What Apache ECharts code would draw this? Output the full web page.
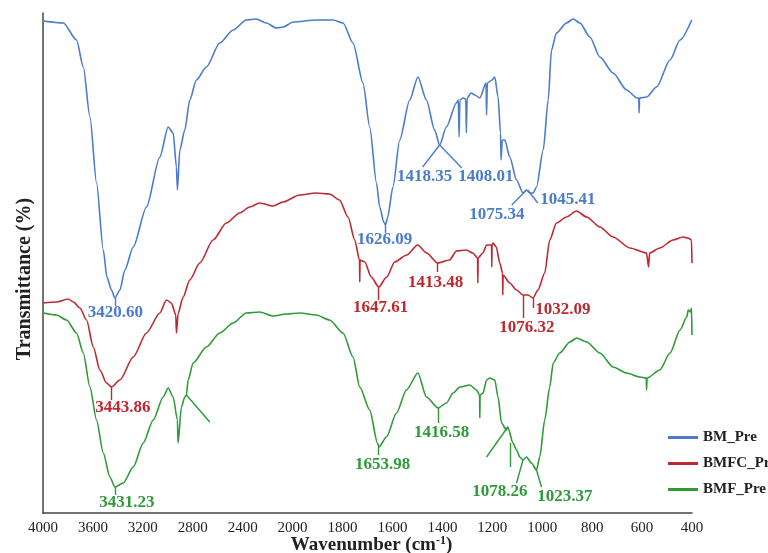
<!DOCTYPE html>
<html>
<head>
<meta charset="utf-8">
<script src="https://cdn.jsdelivr.net/npm/echarts@6/dist/echarts.min.js"></script>
<style>html,body{margin:0;padding:0;background:#fff}#c{width:768px;height:553px}</style>
</head>
<body>
<div id="c"></div>
<script>
// x tick labels (cm-1); axis is split: 4000-2000 compressed, 2000-400 expanded
var tickLabels = [4000, 3600, 3200, 2800, 2400, 2000, 1800, 1600, 1400, 1200, 1000, 800, 600, 400];
var seriesNames = ['BM_Pre', 'BMFC_Pre', 'BMF_Pre'];
var colors = ['#4a7ccb', '#c0282f', '#2f9a38'];

// [wavenumber, transmittance (arbitrary offset units)]
var bmPre = [
[3997,492],[3837,490],[3731,473],[3677,446],[3624,396],[3571,330],[3517,263],[3488,236],[3451,223],[3424,215],
[3384,223],[3344,243],[3277,266],[3171,306],[3064,356],[2997,386],[2957,380],[2931,346],[2923,323],[2904,363],
[2864,383],[2824,413],[2771,433],[2691,446],[2584,470],[2477,483],[2371,493],[2291,494],[2211,490],[2131,485],
[2077,486],[1997,491],[1905,493],[1838,493],[1798,490],[1758,470],[1718,430],[1691,386],[1664,330],[1651,306],
[1635,291],[1628,288],[1620,295],[1598,326],[1571,373],[1531,413],[1498,436],[1464,413],[1431,383],[1411,368],
[1384,386],[1344,410],[1336,413],[1333,376],[1330,413],[1317,415],[1306,414],[1304,380],[1301,415],[1285,420],
[1270,418],[1250,415],[1225,430],[1223,398],[1220,430],[1201,433],[1190,436],[1177,416],[1167,380],[1165,353],
[1160,373],[1150,373],[1130,356],[1103,333],[1077,320],[1063,323],[1050,320],[1036,320],[1023,326],[996,363],
[976,413],[963,463],[943,480],[903,490],[876,494],[849,490],[809,476],[769,456],[716,440],[662,423],
[620,415],[613,415],[612,400],[610,415],[582,416],[542,426],[488,453],[448,473],[401,493]
];
var bmfcPre = [
[3997,210],[3891,211],[3797,214],[3757,211],[3704,205],[3651,193],[3597,166],[3544,143],[3491,130],[3451,126],
[3384,133],[3277,156],[3171,180],[3064,200],[3011,213],[2971,210],[2936,198],[2931,180],[2917,200],[2877,216],
[2824,233],[2744,250],[2637,273],[2531,290],[2424,300],[2344,306],[2264,310],[2157,307],[2077,311],[1972,318],
[1905,320],[1852,319],[1812,313],[1778,296],[1751,273],[1732,253],[1731,231],[1730,253],[1711,251],[1685,236],
[1655,226],[1623,236],[1591,251],[1543,258],[1499,268],[1463,260],[1419,250],[1371,253],[1344,262],[1304,263],
[1278,260],[1259,255],[1258,230],[1257,255],[1238,260],[1223,268],[1210,268],[1203,268],[1202,246],[1201,268],
[1197,270],[1184,266],[1170,250],[1159,240],[1158,218],[1157,238],[1130,230],[1103,223],[1077,218],[1057,218],
[1037,215],[1017,223],[990,240],[970,273],[943,290],[903,296],[863,302],[822,296],[769,286],[716,276],
[649,265],[582,260],[574,246],[570,260],[529,265],[476,273],[436,276],[416,275],[402,273],[400,250]
];
var bmfPre = [
[3997,200],[3891,198],[3811,193],[3731,180],[3677,160],[3624,126],[3571,93],[3517,60],[3464,36],[3424,26],
[3357,30],[3277,46],[3197,70],[3117,93],[3037,116],[2997,125],[2957,116],[2923,93],[2918,70],[2891,106],
[2864,116],[2851,118],[2837,133],[2797,150],[2691,166],[2584,180],[2477,190],[2371,200],[2264,201],[2157,197],
[2051,199],[1972,200],[1905,198],[1852,193],[1798,180],[1758,156],[1731,126],[1691,103],[1660,70],[1654,66],
[1624,76],[1584,100],[1544,123],[1498,140],[1464,116],[1417,105],[1384,110],[1357,120],[1330,126],[1290,128],
[1263,123],[1251,118],[1250,95],[1249,118],[1237,120],[1223,133],[1210,135],[1190,133],[1177,116],[1163,90],
[1143,83],[1138,86],[1117,70],[1103,63],[1090,56],[1077,53],[1063,56],[1043,50],[1023,43],[1010,56],
[990,93],[970,126],[956,150],[930,160],[889,171],[862,175],[822,171],[769,160],[716,146],[662,140],
[609,136],[583,135],[582,123],[580,135],[529,143],[488,160],[448,183],[421,196],[415,203],[406,201],
[402,205],[400,178]
];

// peak labels: [text, wavenumber, transmittance]
var bmLabels = [['3420.60',3420,200],['1626.09',1631,273],['1418.35',1471,336],['1408.01',1226,336],['1075.34',1182,298],['1045.41',897,313]];
var bmfcLabels = [['3443.86',3360,105],['1647.61',1647,205],['1413.48',1427,230],['1076.32',1062,185],['1032.09',917,203]];
var bmfLabels = [['3431.23',3328,10],['1653.98',1639,48],['1416.58',1403,80],['1078.26',1170,21],['1023.37',909,16]];

// leader lines: [[w1,t1],[w2,t2]]
var bmLeaders = [[[3424,215],[3424,207]],[[1628,288],[1628,280]],[[1411,368],[1479,346]],[[1411,368],[1322,345]],[[1063,323],[1122,308]],[[1058,323],[1018,310]]];
var bmfcLeaders = [[[3451,126],[3451,113]],[[1655,226],[1655,213]],[[1419,250],[1419,241]],[[1077,218],[1077,195]],[[1037,215],[1037,205]]];
var bmfLeaders = [[[3424,26],[3424,18]],[[1656,66],[1656,58]],[[1417,105],[1417,90]],[[1077,53],[1103,30]],[[1023,43],[1003,26]],[[2851,118],[2664,91]],[[1223,56],[1138,86]],[[1130,70],[1130,46]]];

// piecewise axis scale: above 2000 cm-1 compressed by half
function tx(w){ return w <= 2000 ? w : 2000 + (w - 2000) / 2; }
function inv(v){ return v <= 2000 ? v : 2000 + (v - 2000) * 2; }

var FONT = 'Liberation Serif';

function mkSeries(name, data, labels, leaders, color){
  return {
    name: name, type: 'line', showSymbol: false, symbol: 'none',
    smooth: 0.25, smoothMonotone: 'x',
    data: data.map(function(p){ return [tx(p[0]), p[1]]; }),
    lineStyle: {color: color, width: 1.6},
    itemStyle: {color: color},
    animation: false,
    markLine: {
      silent: true, symbol: ['none','none'], animation: false,
      lineStyle: {color: color, width: 1.4, type: 'solid'},
      label: {show: false},
      data: leaders.map(function(l){
        return [{coord: [tx(l[0][0]), l[0][1]]}, {coord: [tx(l[1][0]), l[1][1]]}];
      })
    },
    markPoint: {
      silent: true, animation: false, symbol: 'rect', symbolSize: 1,
      itemStyle: {color: 'rgba(0,0,0,0)'},
      label: {show: true, position: 'inside', color: color, fontFamily: FONT, fontWeight: 'bold', fontSize: 17,
        formatter: function(p){ return p.name; }},
      data: labels.map(function(l){ return {name: l[0], coord: [tx(l[1]), l[2]]}; })
    }
  };
}

var chart = echarts.init(document.getElementById('c'), null, {renderer: 'canvas'});
chart.setOption({
  backgroundColor: '#fff',
  animation: false,
  grid: {left: 43, right: 76, top: 13, bottom: 40, outerBoundsMode: 'none', containLabel: false},
  legend: {
    data: seriesNames, orient: 'vertical', left: 663, top: 425,
    icon: 'rect', itemWidth: 30, itemHeight: 3, itemGap: 11,
    textStyle: {fontFamily: FONT, fontWeight: 'bold', fontSize: 15, color: '#222'}
  },
  xAxis: {
    type: 'value', inverse: true, min: 400, max: 3000, interval: 200,
    axisLine: {lineStyle: {color: '#444', width: 1.5}},
    axisTick: {show: false},
    splitLine: {show: false},
    axisLabel: {fontFamily: FONT, fontSize: 15, color: '#222', margin: 8,
      formatter: function(v){ var w = inv(v); return tickLabels.indexOf(w) >= 0 ? String(w) : ''; }},
    name: 'Wavenumber (cm{sup|-1})', nameLocation: 'middle', nameGap: 22, nameMoveOverlap: false,
    nameTextStyle: {fontFamily: FONT, fontWeight: 'bold', fontSize: 19, color: '#222',
      padding: [0, 0, 0, 8],
      rich: {sup: {fontFamily: FONT, fontWeight: 'bold', fontSize: 12, color: '#222', verticalAlign: 'top', padding: [0,0,9,0]}}}
  },
  yAxis: {
    type: 'value', min: 0, max: 500,
    axisLine: {show: true, lineStyle: {color: '#444', width: 1.5}},
    axisTick: {show: false}, axisLabel: {show: false}, splitLine: {show: false},
    name: 'Transmittance (%)', nameLocation: 'middle', nameGap: 8, nameRotate: 90, nameMoveOverlap: false,
    nameTextStyle: {fontFamily: FONT, fontWeight: 'bold', fontSize: 20, color: '#222', padding: [0, 32, 0, 0]}
  },
  series: [
    mkSeries(seriesNames[0], bmPre, bmLabels, bmLeaders, colors[0]),
    mkSeries(seriesNames[1], bmfcPre, bmfcLabels, bmfcLeaders, colors[1]),
    mkSeries(seriesNames[2], bmfPre, bmfLabels, bmfLeaders, colors[2])
  ]
});
</script>
</body>
</html>
